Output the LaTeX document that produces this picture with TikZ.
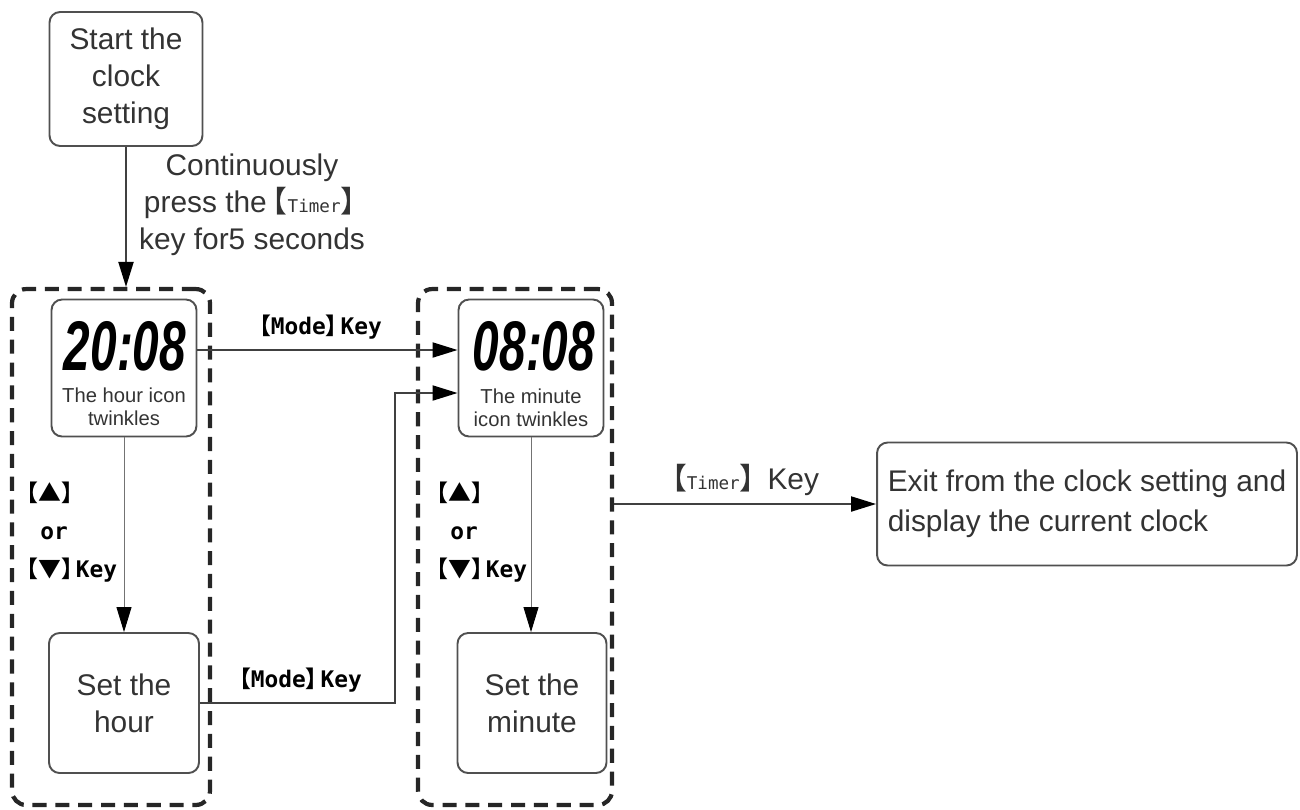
\documentclass[tikz,border=0pt]{standalone}
\usepackage{fontspec}
\setmainfont{Liberation Sans}
\newfontfamily\cjk{Noto Sans CJK SC}
\newfontfamily\keyfont{DejaVu Sans Mono}
\newfontfamily\lcdfont{Liberation Sans}[FakeStretch=0.68]
\usetikzlibrary{arrows.meta}
\definecolor{inkgray}{HTML}{333333}
\definecolor{boxgray}{HTML}{505050}
\newcommand\lbr{{\cjk【}}
\newcommand\rbr{{\cjk】}\kern-0.35em}
\tikzset{
  clockbox/.style = {draw=boxgray, line width=1.1pt, rounded corners=6pt, align=center,
                     text=inkgray, font=\fontsize{17}{21}\selectfont, inner sep=0pt},
  lcdbox/.style   = {clockbox, minimum width=2.9cm, minimum height=2.74cm},
  groupbox/.style = {draw=black!85, line width=2.4pt, dash pattern=on 8pt off 5pt,
                     rounded corners=8pt, inner sep=0pt},
  flowar/.style   = {-{Triangle[length=5mm,width=3mm,color=black]}, line width=1.1pt, black!75},
  thinar/.style   = {-{Triangle[length=5mm,width=3mm,color=black]}, line width=0.5pt, black!55},
  keylab/.style   = {font=\keyfont\bfseries\fontsize{13}{21.5}\selectfont, inner sep=0pt},
  lcddigits/.style= {font=\lcdfont\bfseries\itshape\fontsize{40}{40}\selectfont, inner sep=0pt},
  lcdnote/.style  = {font=\fontsize{11.5}{13}\selectfont, align=center, text=inkgray, inner sep=0pt}
}
\begin{document}
\begin{tikzpicture}[x=0.02cm,y=-0.02cm]
  \useasboundingbox (0,0) rectangle (1300,809);
  % dashed groups
  \node[groupbox, minimum width=3.96cm, minimum height=10.32cm] (grpA) at (111,547) {};
  \node[groupbox, minimum width=3.88cm, minimum height=10.32cm] (grpB) at (515,547) {};
  % boxes
  \node[clockbox, minimum width=3.06cm, minimum height=2.68cm] (start) at (126,79)
        {Start the\\clock\\setting};
  \node[lcdbox] (lcdA) at (124,368) {};
  \node[lcddigits] (digA) at (125,346) {20:08};
  \node[lcdnote] (noteA) at (124,407) {The hour icon\\twinkles};
  \node[lcdbox] (lcdB) at (531,368) {};
  \node[lcddigits] (digB) at (534,346) {08:08};
  \node[lcdnote] (noteB) at (531,408) {The minute\\icon twinkles};
  \node[clockbox, minimum width=3cm, minimum height=2.8cm] (hourset) at (124,703)
        {Set the\\hour};
  \node[clockbox, minimum width=2.98cm, minimum height=2.8cm] (minset) at (532,703)
        {Set the\\minute};
  \node[clockbox, minimum width=8.4cm, minimum height=2.46cm, align=left,
        font=\fontsize{17}{22.5}\selectfont]
        (exit) at (1087,504) {Exit from the clock setting and\\display the current clock};
  % connectors
  \coordinate (bend) at (395,393);
  \draw[flowar] (start.south) -- (start.south |- grpA.north);
  \draw[flowar] ([yshift=0.36cm]lcdA.east) -- ([yshift=0.36cm]lcdB.west);
  \draw[flowar] (hourset.east) -| (bend) -- (lcdB.west |- bend);
  \draw[thinar] (lcdA.south) -- (hourset.north);
  \draw[thinar] (lcdB.south) -- (lcdB.south |- minset.north);
  \draw[flowar] (grpB.east |- exit.west) -- (exit.west);
  % labels
  \node[font=\fontsize{17}{21}\selectfont, align=center, text=inkgray] (pressnote) at (252,205)
        {Continuously\\press the\kern-0.3em\lbr{\keyfont\fontsize{10}{12}\selectfont Timer}\rbr\\key for5 seconds};
  \node[keylab] (modeA) at (315,327) {\lbr Mode\rbr Key};
  \node[keylab] (modeB) at (295,680) {\lbr Mode\rbr Key};
  \node[keylab, align=left, anchor=north west] (keysA) at (15,482)
        {{\cjk【▲】}\\\hspace{1.1em}or\\\lbr{\cjk▼}\rbr Key};
  \node[keylab, align=left, anchor=north west] (keysB) at (425,482)
        {{\cjk【▲】}\\\hspace{1.1em}or\\\lbr{\cjk▼}\rbr Key};
  \node[font=\fontsize{17}{21}\selectfont, text=inkgray] (timerkey) at (738,480)
        {\lbr{\keyfont\fontsize{10}{12}\selectfont Timer}\rbr\ Key};
\end{tikzpicture}
\end{document}
